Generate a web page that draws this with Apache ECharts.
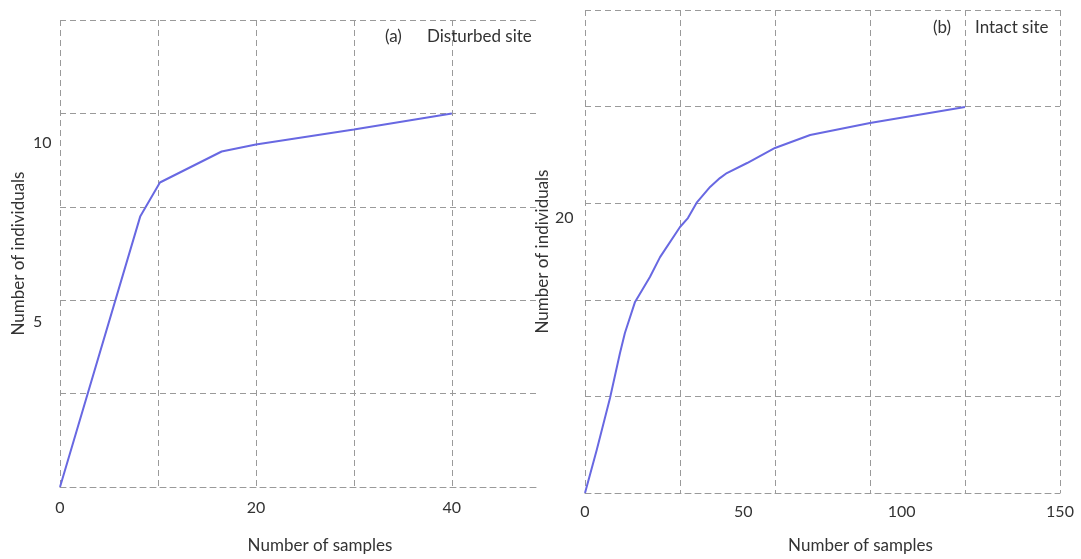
<!DOCTYPE html>
<html>
<head>
<meta charset="utf-8">
<script src="https://cdn.jsdelivr.net/npm/echarts@6/dist/echarts.min.js"></script>
<style>
html,body{margin:0;padding:0;background:#fff;}
#chart{width:1081px;height:559px;}
</style>
</head>
<body>
<div id="chart"></div>
<script>
// Panel (a) Disturbed site
const samplesA = [0, 8.2, 10.2, 16.5, 20, 30, 40];
const individualsA = [0, 7.25, 8.15, 8.98, 9.17, 9.57, 10.0];
// Panel (b) Intact site
const samplesB = [0, 3.7, 7.9, 11.05, 12.6, 15.8, 20.5, 23.7, 30, 32.5, 35.4, 39.5, 42.6, 44.8, 51.2, 60, 71.1, 90, 120];
const individualsB = [0, 2.23, 4.92, 7.25, 8.28, 9.89, 11.18, 12.21, 13.77, 14.23, 15.06, 15.84, 16.30, 16.56, 17.08, 17.86, 18.53, 19.15, 19.98];
// Tick labels
const xTickLabelsA = [0, 20, 40];
const yTickLabelsA = [5, 10];
const xTickLabelsB = [0, 50, 100, 150];
const yTickLabelsB = [20];
const titlesA = ['(a)', 'Disturbed site'];
const titlesB = ['(b)', 'Intact site'];
const xName = 'Number of samples';
const yName = 'Number of individuals';

const FONT = 'Lato';
const TXT = '#333';
const GRIDC = '#9a9a9a';
const LINEC = '#6868e2';

const dashed = { color: GRIDC, type: [6, 4], width: 1 };
const labelStyle = { color: TXT, fontFamily: FONT, fontSize: 16 };
const nameStyle = { color: TXT, fontFamily: FONT, fontSize: 17 };
const titleStyle = { color: TXT, fontFamily: FONT, fontSize: 17, fontWeight: 'normal' };

function pairs(xs, ys) { return xs.map((x, i) => [x, ys[i]]); }

const chart = echarts.init(document.getElementById('chart'), null, { renderer: 'canvas' });
chart.setOption({
  animation: false,
  backgroundColor: '#fff',
  title: [
    { text: titlesA[0], left: 385, top: 28, textStyle: titleStyle, padding: 0 },
    { text: titlesA[1], left: 427, top: 28, textStyle: titleStyle, padding: 0 },
    { text: titlesB[0], left: 933, top: 19, textStyle: titleStyle, padding: 0 },
    { text: titlesB[1], left: 975, top: 19, textStyle: titleStyle, padding: 0 }
  ],
  grid: [
    { left: 60, top: 20, width: 480, height: 469, containLabel: false },
    { left: 585, top: 10, width: 475, height: 483, containLabel: false }
  ],
  xAxis: [
    { type: 'value', gridIndex: 0, min: 0, max: 49, interval: 10,
      axisLine: { show: true, lineStyle: dashed }, axisTick: { show: false },
      axisLabel: Object.assign({ customValues: xTickLabelsA, margin: 13 }, labelStyle),
      splitLine: { show: true, lineStyle: dashed, showMaxLine: false, showMinLine: true },
      name: xName, nameLocation: 'middle', nameGap: 50,
      nameTextStyle: Object.assign({ padding: [0, 0, 0, 40] }, nameStyle) },
    { type: 'value', gridIndex: 1, min: 0, max: 150, interval: 30,
      axisLine: { show: true, lineStyle: dashed }, axisTick: { show: false },
      axisLabel: Object.assign({ customValues: xTickLabelsB, margin: 11 }, labelStyle),
      splitLine: { show: true, lineStyle: dashed },
      name: xName, nameLocation: 'middle', nameGap: 44,
      nameTextStyle: Object.assign({ padding: [0, 0, 0, 76] }, nameStyle) }
  ],
  yAxis: [
    { type: 'value', gridIndex: 0, min: 0, max: 12.5, interval: 2.5,
      axisLine: { show: false }, axisTick: { show: false }, axisLabel: { show: false },
      splitLine: { show: true, lineStyle: dashed } },
    { type: 'value', gridIndex: 0, position: 'left', offset: 0, min: 0.39, max: 13.42,
      axisLine: { show: false }, axisTick: { show: false }, splitLine: { show: false },
      axisLabel: Object.assign({ customValues: yTickLabelsA, align: 'left', margin: 27 }, labelStyle),
      name: yName, nameLocation: 'middle', nameGap: 33, nameRotate: 90, nameTextStyle: nameStyle },
    { type: 'value', gridIndex: 1, min: 0, max: 25, interval: 5,
      axisLine: { show: false }, axisTick: { show: false }, axisLabel: { show: false },
      splitLine: { show: true, lineStyle: dashed } },
    { type: 'value', gridIndex: 1, position: 'left', offset: 0, min: 5.77, max: 30.77,
      axisLine: { show: false }, axisTick: { show: false }, splitLine: { show: false },
      axisLabel: Object.assign({ customValues: yTickLabelsB, align: 'left', margin: 30 }, labelStyle),
      name: yName, nameLocation: 'middle', nameGap: 34, nameRotate: 90, nameTextStyle: nameStyle }
  ],
  series: [
    { type: 'line', xAxisIndex: 0, yAxisIndex: 0, data: pairs(samplesA, individualsA),
      showSymbol: false, symbol: 'none', lineStyle: { color: LINEC, width: 2 }, z: 5 },
    { type: 'line', xAxisIndex: 1, yAxisIndex: 2, data: pairs(samplesB, individualsB),
      showSymbol: false, symbol: 'none', lineStyle: { color: LINEC, width: 2, join: 'round' }, z: 5 }
  ]
});
</script>
</body>
</html>
